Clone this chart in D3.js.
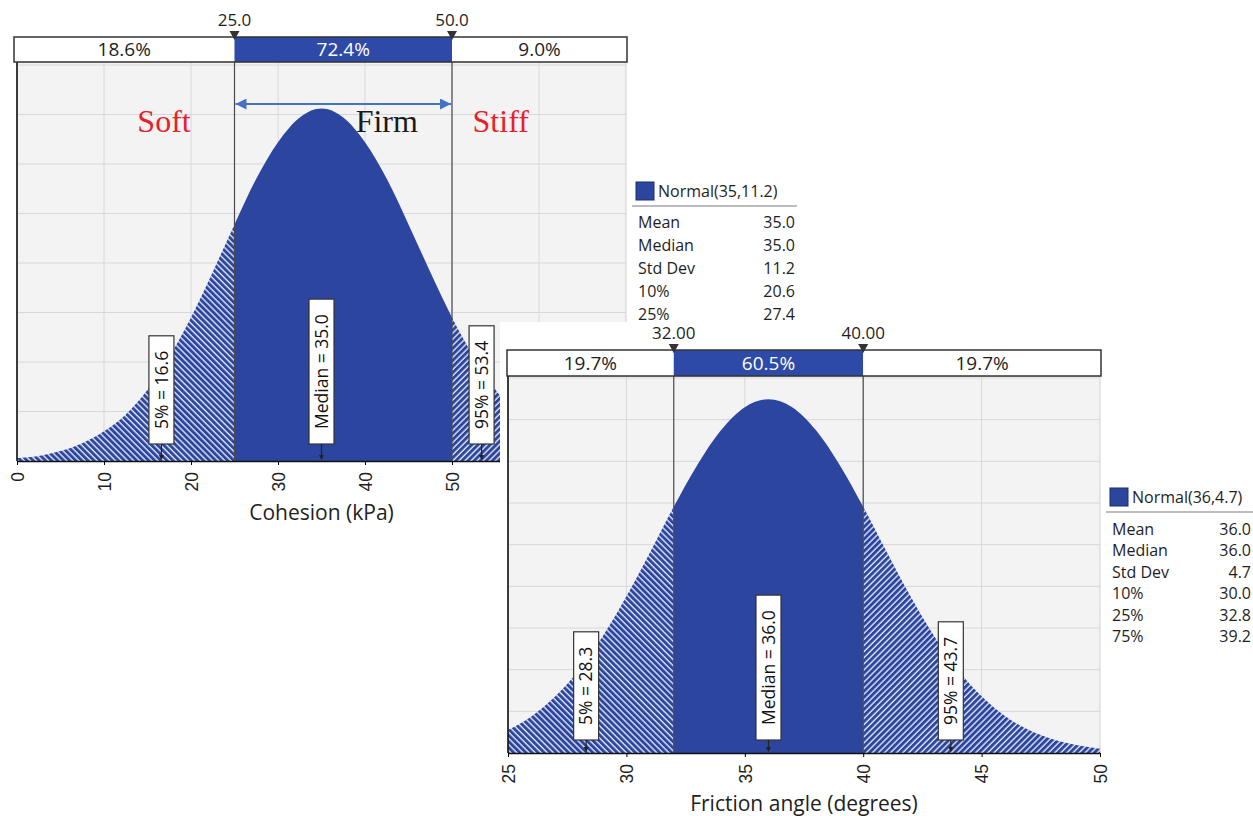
<!DOCTYPE html>
<html lang="en">
<head>
<meta charset="UTF-8" />
<title>Cohesion and friction angle distributions</title>
<script src="https://d3js.org/d3.v7.min.js"></script>
<style>
  body { margin: 0; background: #fff; }
  svg { font-family: "Open Sans", "Noto Sans", sans-serif; }
  .grid line { stroke: #d8d8d8; stroke-width: 1; }
  .zone { font-family: "Liberation Serif", "Times New Roman", serif; font-size: 32px; }
</style>
</head>
<body>
<svg id="chart" width="1253" height="816"></svg>
<script>
// ---- cohesion (kPa), values ----
const cohesionX = [0, 2.5, 5, 7.5, 10, 12.5, 15, 17.5, 20, 22.5, 25, 27.5, 30, 32.5, 35,
  37.5, 40, 42.5, 45, 47.5, 50, 52.5, 55, 57.5, 60, 62.5, 65, 67.5, 70];
const cohesionDensity = [0.0003, 0.0005, 0.0010, 0.0018, 0.0030, 0.0047, 0.0072, 0.0105, 0.0145,
  0.0191, 0.0239, 0.0285, 0.0322, 0.0347, 0.0356, 0.0347, 0.0322, 0.0285, 0.0239, 0.0191,
  0.0145, 0.0105, 0.0072, 0.0047, 0.0030, 0.0018, 0.0010, 0.0005, 0.0003];
const cohesionTicks = [0, 10, 20, 30, 40, 50, 60, 70];
const cohesionCuts = [25, 50];
const cohesionCutLabels = ["25.0", "50.0"];
const cohesionBandLabels = ["18.6%", "72.4%", "9.0%"];
const cohesionPctValues = [16.6, 35.0, 53.4];
const cohesionPctLabels = ["5% = 16.6", "Median = 35.0", "95% = 53.4"];
const cohesionStatNames = ["Mean", "Median", "Std Dev", "10%", "25%"];
const cohesionStatValues = ["35.0", "35.0", "11.2", "20.6", "27.4"];

// ---- friction angle (degrees) ----
const frictionX = [25, 26, 27, 28, 29, 30, 31, 32, 33, 34, 35, 36, 37, 38, 39, 40, 41, 42,
  43, 44, 45, 46, 47, 48, 49, 50];
const frictionDensity = [0.0055, 0.0088, 0.0136, 0.0199, 0.0280, 0.0376, 0.0482, 0.0591,
  0.0692, 0.0775, 0.0830, 0.0849, 0.0830, 0.0775, 0.0692, 0.0591, 0.0482, 0.0376, 0.0280,
  0.0199, 0.0136, 0.0088, 0.0055, 0.0033, 0.0019, 0.0010];
const frictionTicks = [25, 30, 35, 40, 45, 50];
const frictionCuts = [32, 40];
const frictionCutLabels = ["32.00", "40.00"];
const frictionBandLabels = ["19.7%", "60.5%", "19.7%"];
const frictionPctValues = [28.3, 36.0, 43.7];
const frictionPctLabels = ["5% = 28.3", "Median = 36.0", "95% = 43.7"];
const frictionStatNames = ["Mean", "Median", "Std Dev", "10%", "25%", "75%"];
const frictionStatValues = ["36.0", "36.0", "4.7", "30.0", "32.8", "39.2"];

const zoneLabels = ["Soft", "Firm", "Stiff"];
const zoneAt = [16.9, 42.5, 55.6];

const blue = "#2c46a0";
const ink = "#1e1e1e";
const svg = d3.select("#chart");
const defs = svg.append("defs");

function hatch(id, angle) {
  const p = defs.append("pattern").attr("id", id)
    .attr("patternUnits", "userSpaceOnUse")
    .attr("width", 4.3).attr("height", 4.3)
    .attr("patternTransform", `rotate(${angle})`);
  p.append("rect").attr("width", 4.3).attr("height", 4.3).attr("fill", blue);
  p.append("line").attr("x1", 1).attr("y1", 0).attr("x2", 1).attr("y2", 4.3)
    .attr("stroke", "#fff").attr("stroke-width", 1.2);
}
hatch("hatchL", -45);
hatch("hatchR", 45);

function drawPanel(p) {
  const g = svg.append("g");
  const x = d3.scaleLinear().domain(p.xDomain).range([p.left, p.right]);
  const y = d3.scaleLinear().domain(p.yDomain).range([p.base, p.yTop]);

  if (p.cover) {
    g.append("rect").attr("x", p.cover[0]).attr("y", p.cover[1])
      .attr("width", p.cover[2]).attr("height", p.cover[3]).attr("fill", "#fff");
  }

  // plot background + grid
  g.append("rect").attr("x", p.left).attr("y", p.plotTop)
    .attr("width", p.right - p.left).attr("height", p.base - p.plotTop)
    .attr("fill", "#f3f3f3").attr("stroke", "#d0d0d0");

  const grid = g.append("g").attr("class", "grid");
  grid.selectAll("line.v")
    .data(p.ticks.filter((t) => t > p.xDomain[0] && t < p.xDomain[1]))
    .join("line").attr("class", "v")
    .attr("x1", (d) => x(d)).attr("x2", (d) => x(d))
    .attr("y1", p.plotTop).attr("y2", p.base);
  grid.selectAll("line.h")
    .data(y.ticks(p.yGridCount).filter((t) => t > 0))
    .join("line").attr("class", "h")
    .attr("x1", p.left).attr("x2", p.right)
    .attr("y1", (d) => y(d)).attr("y2", (d) => y(d));

  // density area, split at the two cut values
  const pts = p.xs.map((v, i) => [v, p.ys[i]]);
  const area = d3.area()
    .x((d) => x(d[0])).y0(p.base).y1((d) => y(d[1]))
    .curve(d3.curveMonotoneX);
  const parts = [
    [p.xDomain[0], p.cuts[0], "url(#hatchL)"],
    [p.cuts[0], p.cuts[1], blue],
    [p.cuts[1], p.xDomain[1], "url(#hatchR)"],
  ];
  parts.forEach((part, i) => {
    const id = `${p.id}-clip${i}`;
    defs.append("clipPath").attr("id", id).append("rect")
      .attr("x", x(part[0])).attr("y", p.plotTop)
      .attr("width", x(part[1]) - x(part[0])).attr("height", p.base - p.plotTop + 1);
    g.append("path").datum(pts).attr("d", area)
      .attr("fill", part[2]).attr("clip-path", `url(#${id})`);
  });

  // cut lines
  g.selectAll("line.cut").data(p.cuts).join("line").attr("class", "cut")
    .attr("x1", (d) => x(d)).attr("x2", (d) => x(d))
    .attr("y1", p.plotTop).attr("y2", p.base)
    .attr("stroke", "#4a4a4a").attr("stroke-width", 1.2);

  // axes frame
  g.append("line").attr("x1", p.left).attr("x2", p.left)
    .attr("y1", p.plotTop).attr("y2", p.base).attr("stroke", "#111").attr("stroke-width", 1.6);
  const ax = g.append("g").attr("transform", `translate(0,${p.base})`)
    .call(d3.axisBottom(x).tickValues(p.ticks).tickSize(4).tickSizeOuter(0));
  ax.select(".domain").attr("stroke", "#111").attr("stroke-width", 1.6);
  ax.selectAll("text")
    .attr("font-size", 17.5).attr("fill", ink)
    .attr("text-anchor", "end")
    .attr("transform", "rotate(-90)")
    .attr("x", -p.tickGap).attr("y", 0).attr("dy", "0.36em");
  g.append("text").attr("x", (p.left + p.right) / 2).attr("y", p.titleY)
    .attr("text-anchor", "middle").attr("font-size", 21).attr("fill", ink)
    .text(p.title);

  // percentile flags
  p.pctValues.forEach((v, i) => {
    const cx = x(v);
    const t = g.append("text").attr("font-size", 17.5).attr("fill", "#111")
      .attr("text-anchor", "middle").attr("dy", "0.36em")
      .text(p.pctLabels[i]);
    const len = t.node().getComputedTextLength();
    const h = len + 30;
    const boxBottom = p.base - p.flagGap;
    g.insert("rect", () => t.node())
      .attr("x", cx - 12.5).attr("y", boxBottom - h).attr("width", 25).attr("height", h)
      .attr("fill", "#fff").attr("stroke", "#333").attr("stroke-width", 1.2);
    t.attr("transform", `translate(${cx},${boxBottom - h / 2}) rotate(-90)`);
    g.append("line").attr("x1", cx).attr("x2", cx)
      .attr("y1", boxBottom).attr("y2", p.base - 2)
      .attr("stroke", "#222").attr("stroke-width", 1.2);
    g.append("path")
      .attr("d", `M${cx - 2.5},${p.base - 6} L${cx + 2.5},${p.base - 6} L${cx},${p.base - 1} Z`)
      .attr("fill", "#222");
  });

  // top probability band
  const edges = [p.bandLeft, x(p.cuts[0]), x(p.cuts[1]), p.bandRight];
  p.bandLabels.forEach((lab, i) => {
    g.append("rect").attr("x", edges[i]).attr("y", p.bandTop)
      .attr("width", edges[i + 1] - edges[i]).attr("height", p.bandH)
      .attr("fill", i === 1 ? "#2e4aa8" : "#fff");
    g.append("text").attr("x", (edges[i] + edges[i + 1]) / 2)
      .attr("y", p.bandTop + p.bandH / 2).attr("dy", "0.36em")
      .attr("text-anchor", "middle").attr("font-size", 19)
      .attr("fill", i === 1 ? "#fff" : ink).text(lab);
  });
  g.append("rect").attr("x", p.bandLeft).attr("y", p.bandTop)
    .attr("width", p.bandRight - p.bandLeft).attr("height", p.bandH)
    .attr("fill", "none").attr("stroke", "#333").attr("stroke-width", 1.5);
  p.cuts.forEach((c, i) => {
    const cx = x(c);
    g.append("path")
      .attr("d", `M${cx - 5},${p.bandTop - 6} L${cx + 5},${p.bandTop - 6} L${cx},${p.bandTop + 3} Z`)
      .attr("fill", "#333");
    g.append("text").attr("x", cx).attr("y", p.bandTop - 11)
      .attr("text-anchor", "middle").attr("font-size", 17).attr("fill", ink)
      .text(p.cutLabels[i]);
  });

  // stats legend
  const s = g.append("g");
  s.append("rect").attr("x", p.statsX).attr("y", p.statsTop - 9)
    .attr("width", 18).attr("height", 18).attr("fill", blue).attr("stroke", "#1c2c6a");
  s.append("text").attr("x", p.statsX + 22).attr("y", p.statsTop).attr("dy", "0.36em")
    .attr("font-size", 16).attr("fill", ink).text(p.distName);
  s.append("line").attr("x1", p.statsX - 4).attr("x2", p.statsRight + 2)
    .attr("y1", p.statsTop + 15).attr("y2", p.statsTop + 15)
    .attr("stroke", "#bcbcbc").attr("stroke-width", 2);
  p.statNames.forEach((n, i) => {
    const yy = p.statsTop + p.statsFirst + i * p.statsStep;
    s.append("text").attr("x", p.statsX + 2).attr("y", yy).attr("dy", "0.36em")
      .attr("font-size", 16).attr("fill", ink).text(n);
    s.append("text").attr("x", p.statsRight).attr("y", yy).attr("dy", "0.36em")
      .attr("text-anchor", "end").attr("font-size", 16).attr("fill", ink)
      .text(p.statValues[i]);
  });

  return { x, y };
}

const left = drawPanel({
  id: "coh", xs: cohesionX, ys: cohesionDensity, ticks: cohesionTicks,
  xDomain: [0, 70], yDomain: [0, 0.04], yGridCount: 8,
  left: 17, right: 626, base: 461, yTop: 65, plotTop: 62,
  bandLeft: 14, bandRight: 627, bandTop: 37, bandH: 25,
  cuts: cohesionCuts, cutLabels: cohesionCutLabels, bandLabels: cohesionBandLabels,
  pctValues: cohesionPctValues, pctLabels: cohesionPctLabels, flagGap: 17,
  tickGap: 11, title: "Cohesion (kPa)", titleY: 520,
  distName: "Normal(35,11.2)", statNames: cohesionStatNames, statValues: cohesionStatValues,
  statsX: 636, statsRight: 795, statsTop: 191, statsFirst: 31, statsStep: 23,
});

// zone annotation on the cohesion chart
const arrowY = 104;
const arrowDefs = defs.append("marker").attr("id", "ah").attr("viewBox", "0 0 10 10")
  .attr("refX", 10).attr("refY", 5).attr("markerWidth", 5).attr("markerHeight", 5)
  .attr("orient", "auto-start-reverse");
arrowDefs.append("path").attr("d", "M0,0 L10,5 L0,10 Z").attr("fill", "#4472c4");
svg.append("line")
  .attr("x1", left.x(cohesionCuts[0]) + 1).attr("x2", left.x(cohesionCuts[1]) - 1)
  .attr("y1", arrowY).attr("y2", arrowY)
  .attr("stroke", "#4472c4").attr("stroke-width", 2.2)
  .attr("marker-start", "url(#ah)").attr("marker-end", "url(#ah)");
svg.selectAll("text.zone").data(zoneLabels).join("text").attr("class", "zone")
  .attr("x", (d, i) => left.x(zoneAt[i])).attr("y", 132)
  .attr("text-anchor", "middle")
  .attr("fill", (d, i) => (i === 1 ? "#1a1a1a" : "#e8202a"))
  .text((d) => d);

drawPanel({
  id: "fri", xs: frictionX, ys: frictionDensity, ticks: frictionTicks,
  xDomain: [25, 50], yDomain: [0, 0.09], yGridCount: 9,
  left: 508, right: 1100, base: 753, yTop: 378, plotTop: 376,
  bandLeft: 507, bandRight: 1101, bandTop: 350, bandH: 26,
  cuts: frictionCuts, cutLabels: frictionCutLabels, bandLabels: frictionBandLabels,
  pctValues: frictionPctValues, pctLabels: frictionPctLabels, flagGap: 13,
  tickGap: 11, title: "Friction angle (degrees)", titleY: 811,
  cover: [500, 322, 753, 494],
  distName: "Normal(36,4.7)", statNames: frictionStatNames, statValues: frictionStatValues,
  statsX: 1110, statsRight: 1251, statsTop: 497, statsFirst: 32, statsStep: 21.5,
});
</script>
</body>
</html>
